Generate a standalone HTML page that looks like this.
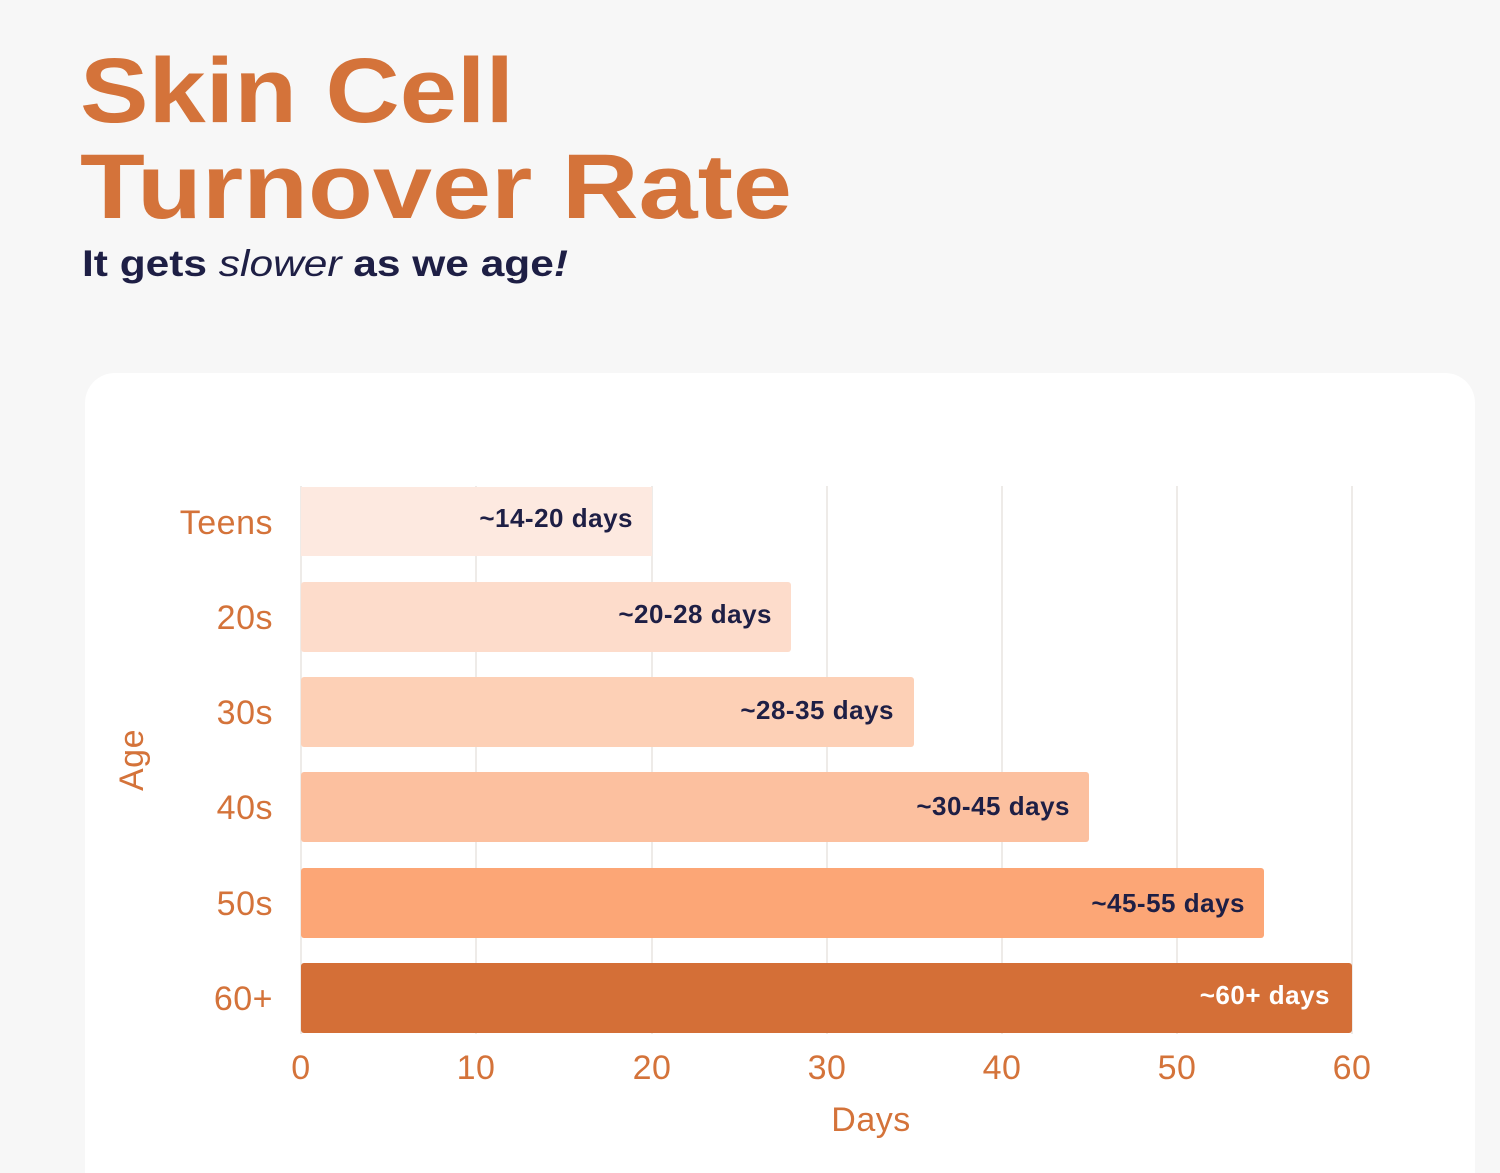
<!DOCTYPE html><html><head><style>body{margin:0;background:#f7f7f7}svg{display:block}</style></head><body>
<svg width="1500" height="1173" viewBox="0 0 1500 1173" font-family="Liberation Sans, sans-serif">
<rect width="1500" height="1173" fill="#f7f7f7"/>
<rect x="85" y="373" width="1390" height="830" rx="30" fill="#ffffff"/>
<text x="80" y="122" font-size="92" font-weight="bold" fill="#d4733a" textLength="434" lengthAdjust="spacingAndGlyphs">Skin Cell</text>
<text x="80" y="218" font-size="92" font-weight="bold" fill="#d4733a" textLength="712" lengthAdjust="spacingAndGlyphs">Turnover Rate</text>
<text x="82" y="276" font-size="37" fill="#1e1f45" font-weight="bold" textLength="486" lengthAdjust="spacingAndGlyphs">It gets <tspan font-style="italic" font-weight="normal">slower</tspan> as we age<tspan font-style="italic">!</tspan></text>
<g stroke="#eeebe8" stroke-width="2">
<line x1="301" y1="486" x2="301" y2="1034"/><line x1="476" y1="486" x2="476" y2="1034"/><line x1="652" y1="486" x2="652" y2="1034"/><line x1="827" y1="486" x2="827" y2="1034"/><line x1="1002" y1="486" x2="1002" y2="1034"/><line x1="1177" y1="486" x2="1177" y2="1034"/><line x1="1352" y1="486" x2="1352" y2="1034"/></g>
<rect x="301" y="487" width="351" height="69" fill="#fde9e0"/>
<rect x="301" y="582" width="490" height="70" rx="3" fill="#fddccb"/>
<rect x="301" y="677" width="613" height="70" rx="3" fill="#fdd0b6"/>
<rect x="301" y="772" width="788" height="70" rx="3" fill="#fcc09f"/>
<rect x="301" y="868" width="963" height="70" rx="3" fill="#fca676"/>
<rect x="301" y="963" width="1051" height="70" rx="3" fill="#d46f37"/>
<g font-size="26" font-weight="bold" fill="#1e1f45" text-anchor="end" letter-spacing="0.5">
<text x="633" y="527">~14-20 days</text><text x="772" y="623">~20-28 days</text><text x="894" y="719">~28-35 days</text><text x="1070" y="815">~30-45 days</text><text x="1245" y="912">~45-55 days</text><text x="1330" y="1004" fill="#fff">~60+ days</text></g>
<g font-size="34" fill="#d4733a" text-anchor="end" letter-spacing="0.5">
<text x="273" y="534">Teens</text><text x="273" y="629">20s</text><text x="273" y="724">30s</text><text x="273" y="819">40s</text><text x="273" y="915">50s</text><text x="273" y="1010">60+</text></g>
<g font-size="34" fill="#d4733a" text-anchor="middle" letter-spacing="0.5">
<text x="301" y="1079">0</text><text x="476" y="1079">10</text><text x="652" y="1079">20</text><text x="827" y="1079">30</text><text x="1002" y="1079">40</text><text x="1177" y="1079">50</text><text x="1352" y="1079">60</text>
<text x="871" y="1131">Days</text>
<text transform="translate(143,760) rotate(-90)">Age</text></g>
</svg></body></html>
